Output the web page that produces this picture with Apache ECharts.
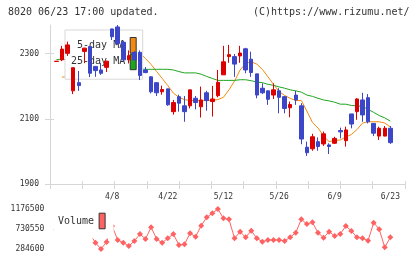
<!DOCTYPE html>
<html>
<head>
<meta charset="utf-8">
<script src="https://cdn.jsdelivr.net/npm/echarts@6/dist/echarts.min.js"></script>
<style>
  html, body { margin: 0; padding: 0; background: #fff; }
  #chart { width: 420px; height: 259px; }
</style>
</head>
<body>
<div id="chart"></div>
<script>
// trading days shown (labels every 10th bar)
const dates = [
  '3/25', '3/26', '3/27', '3/28', '3/31', '4/1', '4/2', '4/3', '4/4', '4/7',
  '4/8', '4/9', '4/10', '4/11', '4/14', '4/15', '4/16', '4/17', '4/18', '4/21',
  '4/22', '4/23', '4/24', '4/25', '4/28', '4/30', '5/1', '5/2', '5/7', '5/8',
  '5/12', '5/13', '5/14', '5/15', '5/16', '5/19', '5/20', '5/21', '5/22', '5/23',
  '5/26', '5/27', '5/28', '5/29', '5/30', '6/2', '6/3', '6/4', '6/5', '6/6',
  '6/9', '6/10', '6/11', '6/12', '6/13', '6/16', '6/17', '6/18', '6/19', '6/20',
  '6/23'
];

const opens = [
  2276, 2281, 2301, 2186, 2211, 2307, 2322, 2261, 2250, 2258,
  2376, 2382, 2335, 2281, 2304, 2304, 2250, 2229, 2211, 2183,
  2192, 2122, 2168, 2140, 2140, 2163, 2137, 2180, 2153, 2171,
  2235, 2291, 2291, 2293, 2315, 2283, 2238, 2194, 2186, 2173,
  2186, 2168, 2134, 2173, 2140, 2013, 2008, 2030, 2023, 2020,
  2025, 2064, 2033, 2115, 2122, 2158, 2165, 2086, 2047, 2047,
  2071
];
const closes = [
  2277, 2314, 2327, 2257, 2202, 2317, 2240, 2248, 2240, 2277,
  2352, 2331, 2281, 2294, 2281, 2233, 2242, 2183, 2180, 2190,
  2143, 2150, 2148, 2122, 2189, 2150, 2158, 2156, 2161, 2212,
  2275, 2297, 2268, 2302, 2250, 2242, 2173, 2180, 2160, 2189,
  2166, 2132, 2144, 2158, 2038, 1996, 2045, 2015, 2054, 2015,
  2040, 2060, 2066, 2084, 2161, 2112, 2091, 2056, 2071, 2071,
  2027
];
const lows = [
  2276, 2277, 2293, 2176, 2186, 2271, 2228, 2229, 2235, 2244,
  2342, 2327, 2276, 2270, 2279, 2219, 2240, 2178, 2170, 2174,
  2140, 2113, 2122, 2091, 2132, 2129, 2104, 2125, 2107, 2166,
  2235, 2272, 2229, 2272, 2240, 2229, 2163, 2176, 2143, 2161,
  2117, 2117, 2105, 2143, 2022, 1986, 2002, 2002, 2017, 1992,
  2023, 2040, 2015, 2071, 2097, 2091, 2086, 2047, 2035, 2047,
  2023
];
const highs = [
  2277, 2324, 2337, 2257, 2247, 2318, 2324, 2262, 2271, 2278,
  2377, 2388, 2340, 2310, 2308, 2310, 2259, 2230, 2212, 2202,
  2192, 2158, 2174, 2170, 2189, 2170, 2199, 2186, 2201, 2250,
  2324, 2327, 2299, 2324, 2318, 2306, 2238, 2209, 2187, 2209,
  2194, 2170, 2153, 2186, 2148, 2030, 2054, 2043, 2061, 2025,
  2045, 2073, 2076, 2115, 2163, 2180, 2176, 2087, 2076, 2078,
  2078
];

const ma5 = [
  null, 2228, 2230, 2245, 2262, 2283, 2269, 2253, 2250, 2264,
  2280, 2295, 2302, 2310, 2310, 2302, 2285, 2267, 2245, 2224,
  2202, 2179, 2166, 2159, 2156, 2156, 2156, 2156, 2157, 2159,
  2166, 2189, 2216, 2250, 2270, 2275, 2268, 2252, 2229, 2206,
  2184, 2172, 2163, 2156, 2156, 2124, 2089, 2072, 2047, 2030,
  2034, 2035, 2044, 2052, 2067, 2087, 2091, 2091, 2091, 2087,
  2075
];
const ma25 = [
  2282, 2283, 2281, 2279, 2276, 2274, 2271, 2268, 2266, 2264,
  2262, 2260, 2258, 2256, 2254, 2253, 2252, 2252, 2252, 2252,
  2252, 2250, 2245, 2241, 2241, 2241, 2237, 2230, 2224, 2218,
  2218, 2218, 2218, 2220, 2220, 2217, 2213, 2211, 2206, 2203,
  2198, 2194, 2189, 2186, 2182, 2173, 2169, 2163, 2158, 2155,
  2151, 2145, 2145, 2141, 2140, 2138, 2129, 2120, 2110, 2103,
  2093
];

const volumes = [
  720000, 900000, 760000, 980000, 820000, 690000, 620000, 425000, 284600, 440700,
  797000, 485300, 425100, 351500, 463000, 619100, 507600, 768500, 507600, 425100,
  523200, 619100, 373800, 389400, 634700, 558900, 804100, 991400, 1080600, 1176500,
  969100, 946800, 523200, 670300, 545500, 692600, 523200, 447400, 485300, 485300,
  485300, 463000, 545500, 648000, 946800, 842000, 879900, 648000, 536600, 670300,
  574500, 619100, 797400, 686000, 545500, 523200, 469700, 871000, 723900, 322500,
  545500
];

const priceTicks = [1900, 2100, 2300];
const volumeTicks = [284600, 730550, 1176500];
const priceMin = 1900, priceMax = 2388;
const volMin = 284600, volMax = 1176500;

const candles = dates.map((d, i) => [opens[i], closes[i], lows[i], highs[i]]);

const mono = 'DejaVu Sans Mono';
const axisGray = '#d6d6d6';
const up = '#dd0000', down = '#3c46c8';
const plain = (v) => String(v);

let myChart = echarts.init(document.getElementById('chart'), null, { renderer: 'canvas' });

let option = {
  animation: false,
  grid: [
    { left: 50, width: 355, top: 25, height: 159 },        // frame: axis lines & ticks
    { left: 53.72, width: 339.4, top: 25, height: 159 },   // candles
    { left: 53.72, width: 339.4, top: 209, height: 40 }    // volume
  ],
  xAxis: [
    {
      gridIndex: 0, type: 'value', min: 0, max: 11, interval: 1, position: 'bottom',
      axisLine: { show: true, lineStyle: { color: axisGray, width: 1 } },
      axisTick: { show: true, length: 5, lineStyle: { color: axisGray } },
      axisLabel: { show: false }, splitLine: { show: false }
    },
    {
      gridIndex: 0, type: 'value', min: 0, max: 11, interval: 1, position: 'bottom',
      axisLine: { show: false },
      axisTick: { show: true, inside: true, length: 3, lineStyle: { color: axisGray } },
      axisLabel: { show: false }, splitLine: { show: false }
    },
    {
      gridIndex: 1, type: 'category', data: dates, boundaryGap: true,
      axisLine: { show: false }, axisTick: { show: false }, splitLine: { show: false },
      axisLabel: {
        interval: (index) => index > 0 && index % 10 === 0,
        margin: 9, fontFamily: mono, fontSize: 8, color: '#333'
      }
    },
    {
      gridIndex: 2, type: 'category', data: dates, boundaryGap: true, show: false
    }
  ],
  yAxis: [
    {
      gridIndex: 0, type: 'value', min: priceMin, max: priceMax, position: 'left',
      axisLine: { show: true, lineStyle: { color: axisGray, width: 1 } },
      axisTick: { show: true, length: 5, customValues: priceTicks, lineStyle: { color: axisGray } },
      axisLabel: { customValues: priceTicks, formatter: plain, margin: 11, fontFamily: mono, fontSize: 8, color: '#333' },
      splitLine: { show: false }
    },
    {
      gridIndex: 0, type: 'value', min: priceMin, max: priceMax, position: 'left',
      axisLine: { show: false },
      axisTick: { show: true, inside: true, length: 4, customValues: priceTicks, lineStyle: { color: axisGray } },
      axisLabel: { show: false }, splitLine: { show: false }
    },
    { gridIndex: 1, type: 'value', min: priceMin, max: priceMax, show: false },
    {
      gridIndex: 2, type: 'value', min: volMin, max: volMax,
      axisLine: { show: false }, axisTick: { show: false }, splitLine: { show: false },
      axisLabel: { customValues: volumeTicks, formatter: plain, margin: 9.4, fontFamily: mono, fontSize: 8, color: '#333' }
    }
  ],
  legend: [
    {
      data: ['5-day MA', '25-day MA'],
      orient: 'vertical', align: 'right', icon: 'rect',
      left: 65, top: 30, padding: [7, 6, 9, 6],
      itemWidth: 6, itemHeight: 15.6, itemGap: 0,
      backgroundColor: '#fff', borderColor: '#d8d8d8', borderWidth: 1,
      itemStyle: { borderColor: '#333', borderWidth: 1 },
      textStyle: { fontFamily: mono, fontSize: 10, color: '#333' },
      selectedMode: false, z: 2
    },
    {
      data: ['Volume'],
      orient: 'vertical', align: 'right', icon: 'rect',
      left: 54, top: 206, padding: [6.7, 8, 9.2, 4],
      itemWidth: 6, itemHeight: 15.6,
      backgroundColor: '#fff', borderWidth: 0,
      itemStyle: { borderColor: '#333', borderWidth: 1 },
      textStyle: { fontFamily: mono, fontSize: 10, color: '#333' },
      selectedMode: false, z: 2
    }
  ],
  graphic: [
    {
      type: 'text', x: 8, y: 12.5, z: 10,
      style: { text: '8020 06/23 17:00 updated.', font: '10px "DejaVu Sans Mono"', fill: '#333', align: 'left', verticalAlign: 'middle' }
    },
    {
      type: 'text', x: 409.5, y: 12.5, z: 10,
      style: { text: '(C)https://www.rizumu.net/', font: '10px "DejaVu Sans Mono"', fill: '#333', align: 'right', verticalAlign: 'middle' }
    }
  ],
  series: [
    {
      name: '5-day MA', type: 'line', xAxisIndex: 2, yAxisIndex: 2,
      data: ma5, showSymbol: false, z: 1,
      color: '#f08a10',
      lineStyle: { color: '#f08a10', width: 1 }
    },
    {
      name: '25-day MA', type: 'line', xAxisIndex: 2, yAxisIndex: 2,
      data: ma25, showSymbol: false, z: 1,
      color: '#1ea51e',
      lineStyle: { color: '#1ea51e', width: 1 }
    },
    {
      name: 'candle', type: 'candlestick', xAxisIndex: 2, yAxisIndex: 2,
      data: candles, barWidth: 4, z: 3,
      itemStyle: {
        color: up, color0: down,
        borderColor: up, borderColor0: down, borderWidth: 1
      }
    },
    {
      name: 'Volume', type: 'line', xAxisIndex: 3, yAxisIndex: 3,
      data: volumes, symbol: 'diamond', symbolSize: 6, showAllSymbol: true, z: 1,
      color: '#ff6262',
      itemStyle: { color: '#ff6262' },
      lineStyle: { color: '#ff6262', width: 1 }
    }
  ]
};

option && myChart.setOption(option);
</script>
</body>
</html>
